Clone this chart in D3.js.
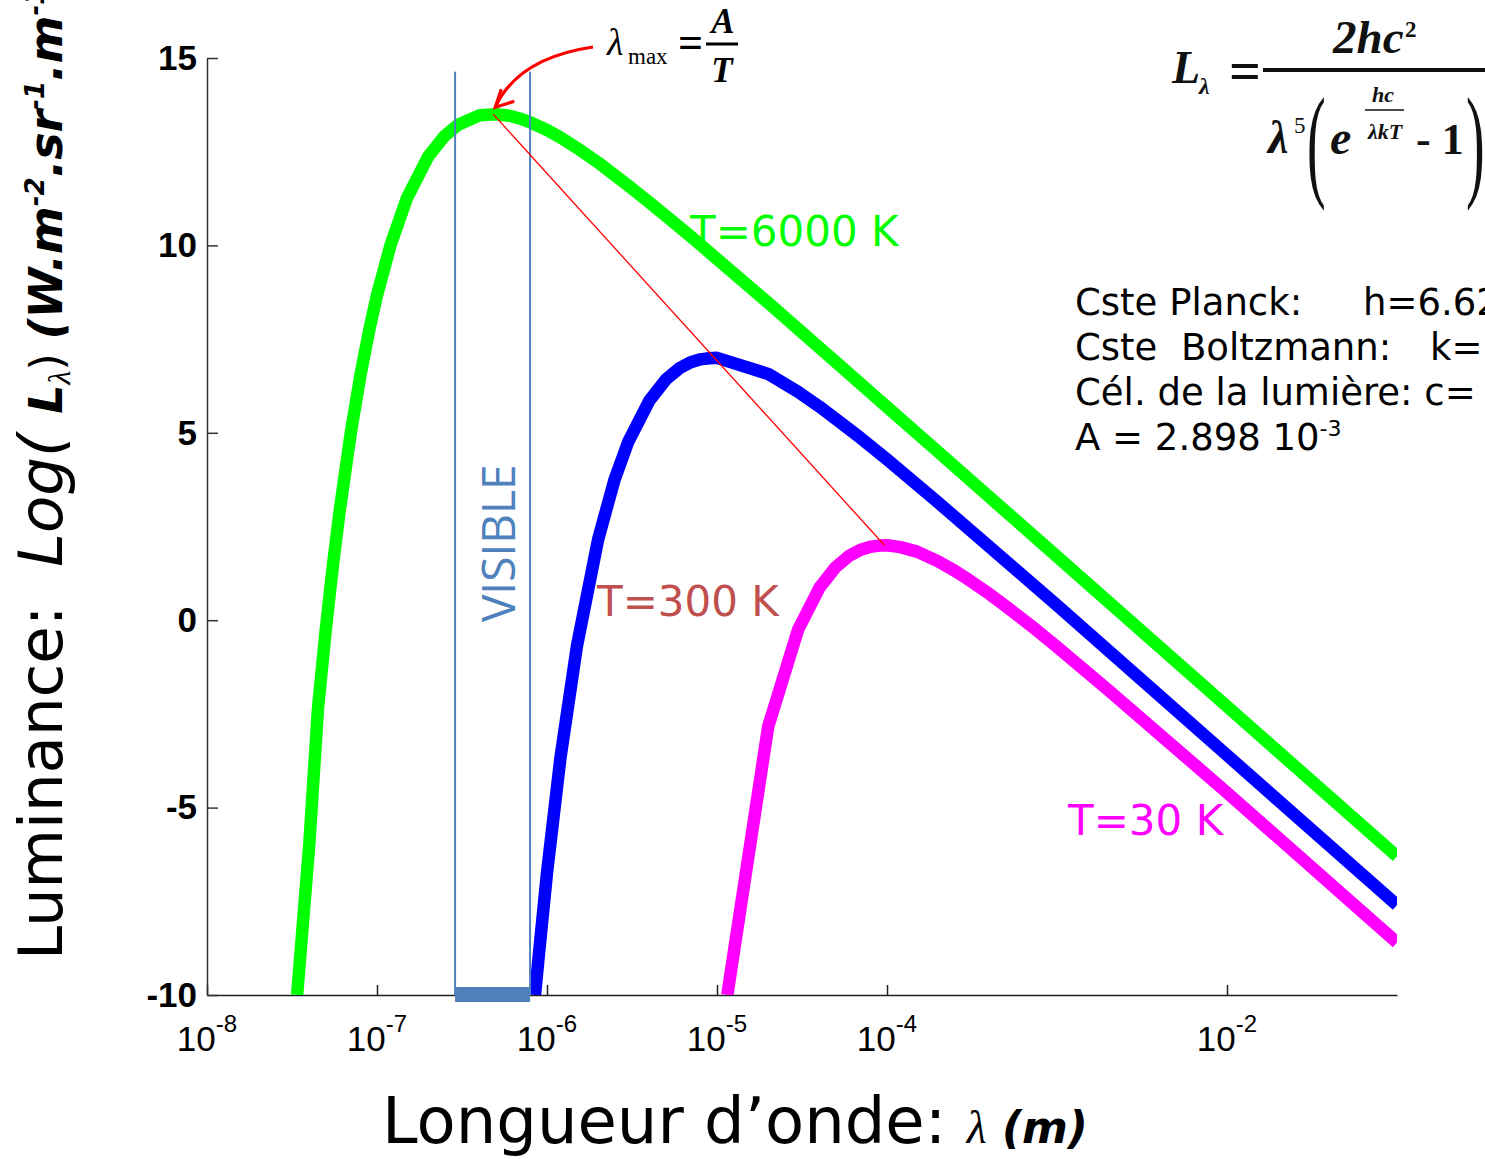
<!DOCTYPE html>
<html>
<head>
<meta charset="utf-8">
<script src="https://cdn.jsdelivr.net/npm/d3@7"></script>
<style>
  body { margin: 0; background: #fff; }
  svg { display: block; }
  text { white-space: pre; }
</style>
</head>
<body>
<div id="chart"></div>
<script>
// wavelength (m) and log10 of luminance
const lambda6000 = [3.39e-8, 4e-8, 4.5e-8, 5e-8, 5.5e-8, 6e-8, 7e-8, 8e-8, 9e-8, 1e-7, 1.2e-7, 1.5e-7, 2e-7, 2.5e-7, 3e-7, 4e-7, 5e-7, 6e-7, 7e-7, 8e-7, 1e-6, 1.2e-6, 1.5e-6, 2e-6, 3e-6, 4e-6, 5e-6, 7e-6, 1e-5, 2e-5, 3e-5, 5e-5, 1e-4, 2e-4, 1e-3, 1e-2, 1e-1];
const logL6000   = [-10, -5.96, -2.33, -0.24, 1.45, 2.84, 4.98, 6.55, 7.74, 8.67, 10.0, 11.26, 12.37, 12.92, 13.22, 13.47, 13.50, 13.46, 13.38, 13.28, 13.08, 12.88, 12.60, 12.21, 11.60, 11.15, 10.79, 10.24, 9.64, 8.47, 7.77, 6.89, 5.69, 4.49, 1.70, -2.30, -6.30];

const lambda300 = [8.5e-7, 9e-7, 1e-6, 1.2e-6, 1.5e-6, 2e-6, 2.5e-6, 3e-6, 4e-6, 5e-6, 6e-6, 7e-6, 8e-6, 9e-6, 1e-5, 2e-5, 3e-5, 4e-5, 5e-5, 7e-5, 1e-4, 2e-4, 1e-3, 1e-2, 1e-1];
const logL300   = [-10, -8.83, -6.74, -3.67, -0.69, 2.16, 3.76, 4.75, 5.86, 6.42, 6.72, 6.88, 6.96, 6.99, 7.00, 6.57, 6.09, 5.70, 5.37, 4.86, 4.29, 3.14, 0.40, -3.60, -7.60];

const lambda30 = [1.15e-5, 2e-5, 3e-5, 4e-5, 5e-5, 6e-5, 7e-5, 8e-5, 9e-5, 1e-4, 1.2e-4, 1.5e-4, 2e-4, 2.5e-4, 3e-4, 4e-4, 5e-4, 7e-4, 1e-3, 2e-3, 1e-2, 1e-1];
const logL30   = [-10, -2.84, -0.25, 0.86, 1.42, 1.72, 1.88, 1.96, 1.99, 2.00, 1.95, 1.83, 1.57, 1.32, 1.09, 0.70, 0.37, -0.14, -0.71, -1.86, -4.60, -8.60];

// peaks joined by the Wien line
const peakLambda = [4.83e-7, 9.66e-5];
const peakLogL = [13.50, 2.00];

// visible band
const visibleBand = [2.88e-7, 7.95e-7];
const visibleTop = 14.63;

const xTicks = [1e-8, 1e-7, 1e-6, 1e-5, 1e-4, 1e-2];
const xTickExp = ["-8", "-7", "-6", "-5", "-4", "-2"];
const yTicks = [-10, -5, 0, 5, 10, 15];

const curves = [
  { lambda: lambda6000, logL: logL6000, color: "#00ff00", label: "T=6000 K", lx: 690, ly: 246, lc: "#00ff00" },
  { lambda: lambda300, logL: logL300, color: "#0000ff", label: "T=300 K", lx: 597, ly: 616, lc: "#c0504d" },
  { lambda: lambda30, logL: logL30, color: "#ff00ff", label: "T=30 K", lx: 1068, ly: 835, lc: "#ff00ff" }
];

const width = 1485, height = 1159;

const svg = d3.select("#chart").append("svg")
  .attr("width", width)
  .attr("height", height);

svg.append("rect").attr("width", width).attr("height", height).attr("fill", "#fff");

const x = d3.scaleLog().domain([1e-8, 1e-1]).range([207, 1397]);
const y = d3.scaleLinear().domain([-10, 15]).range([995, 58]);

svg.append("clipPath").attr("id", "plot")
  .append("rect").attr("x", 207).attr("y", 0).attr("width", 1397 - 207).attr("height", 995);

// axes
const xAxis = svg.append("g")
  .attr("transform", "translate(0," + y(-10) + ")")
  .call(d3.axisBottom(x).tickValues(xTicks).tickSize(-10).tickSizeOuter(0).tickFormat(""));
xAxis.selectAll("path, line").attr("stroke", "#222").attr("stroke-width", 1.5);

const yAxis = svg.append("g")
  .attr("transform", "translate(" + x(1e-8) + ",0)")
  .call(d3.axisLeft(y).tickValues(yTicks).tickSize(-11).tickSizeOuter(0).tickPadding(10).tickFormat(d => String(d)));
yAxis.selectAll("path, line").attr("stroke", "#333").attr("stroke-width", 1.5);
yAxis.selectAll("text")
  .attr("font-family", "Liberation Sans, Arial, sans-serif")
  .attr("font-weight", "bold")
  .attr("font-size", 35)
  .attr("fill", "#000");

const xl = svg.append("g").selectAll("text")
  .data(xTicks)
  .enter().append("text")
  .attr("x", d => x(d))
  .attr("y", 1051)
  .attr("text-anchor", "middle")
  .attr("font-family", "Liberation Sans, Arial, sans-serif")
  .attr("font-size", 35);
xl.append("tspan").text("10");
xl.append("tspan").attr("font-size", 24).attr("dy", -19).text((d, i) => xTickExp[i]);

// curves
const line = d3.line().x(d => x(d[0])).y(d => y(d[1]));
const plot = svg.append("g").attr("clip-path", "url(#plot)");
curves.forEach(c => {
  plot.append("path")
    .datum(c.lambda.map((l, i) => [l, c.logL[i]]))
    .attr("fill", "none")
    .attr("stroke", c.color)
    .attr("stroke-width", 12.5)
    .attr("stroke-linejoin", "round")
    .attr("d", line);
});

// visible band
[0, 1].forEach(i => {
  svg.append("line")
    .attr("x1", x(visibleBand[i])).attr("x2", x(visibleBand[i]))
    .attr("y1", y(visibleTop)).attr("y2", y(-10))
    .attr("stroke", "#4f81bd").attr("stroke-width", 2);
});
svg.append("rect")
  .attr("x", x(visibleBand[0]))
  .attr("y", y(-10) - 8)
  .attr("width", x(visibleBand[1]) - x(visibleBand[0]))
  .attr("height", 15)
  .attr("fill", "#4f81bd");
svg.append("text")
  .attr("transform", "translate(" + ((x(visibleBand[0]) + x(visibleBand[1])) / 2 + 22) + "," + y(-0.05) + ") rotate(-90)")
  .attr("font-family", "Open Sans, sans-serif")
  .attr("font-size", 46)
  .attr("fill", "#4f81bd")
  .text("VISIBLE");

// Wien line
svg.append("line")
  .attr("x1", x(peakLambda[0])).attr("y1", y(peakLogL[0]))
  .attr("x2", x(peakLambda[1])).attr("y2", y(peakLogL[1]))
  .attr("stroke", "#ff0000").attr("stroke-width", 1.3);

// curve labels
curves.forEach(c => {
  svg.append("text")
    .attr("x", c.lx).attr("y", c.ly)
    .attr("font-family", "DejaVu Sans, sans-serif")
    .attr("font-size", 42)
    .attr("fill", c.lc)
    .text(c.label);
});

// lambda max annotation + arrow
const tipX = x(peakLambda[0]) + 2, tipY = y(peakLogL[0]) - 7;
svg.append("path")
  .attr("d", "M593,47 Q518,58 " + tipX + "," + tipY)
  .attr("fill", "none").attr("stroke", "#ff0000").attr("stroke-width", 3.2);
svg.append("path")
  .attr("d", "M" + (tipX + 6) + "," + (tipY - 18) + " L" + tipX + "," + tipY + " L" + (tipX + 19) + "," + (tipY - 6))
  .attr("fill", "none").attr("stroke", "#ff0000").attr("stroke-width", 3.2);

const serif = "Liberation Serif, Times New Roman, serif";
const lm = svg.append("g").attr("font-family", serif).attr("fill", "#000");
lm.append("text").attr("x", 607).attr("y", 55).attr("font-size", 38).attr("font-style", "italic").text("λ");
lm.append("text").attr("x", 628).attr("y", 64).attr("font-size", 23).text("max");
lm.append("text").attr("x", 678).attr("y", 57).attr("font-size", 44).attr("font-weight", "bold").text("=");
lm.append("text").attr("x", 723).attr("y", 33).attr("text-anchor", "middle").attr("font-size", 35).attr("font-weight", "bold").attr("font-style", "italic").text("A");
lm.append("line").attr("x1", 706).attr("x2", 738).attr("y1", 44).attr("y2", 44).attr("stroke", "#000").attr("stroke-width", 3);
lm.append("text").attr("x", 722).attr("y", 82).attr("text-anchor", "middle").attr("font-size", 35).attr("font-weight", "bold").attr("font-style", "italic").text("T");

// Planck formula
const pf = svg.append("g").attr("font-family", serif).attr("font-weight", "bold").attr("font-style", "italic").attr("fill", "#111");
pf.append("text").attr("x", 1172).attr("y", 83).attr("font-size", 46).text("L");
pf.append("text").attr("x", 1199).attr("y", 94).attr("font-size", 24).text("λ");
pf.append("text").attr("x", 1229).attr("y", 90).attr("font-size", 56).attr("font-style", "normal").text("=");
pf.append("line").attr("x1", 1263).attr("x2", 1485).attr("y1", 70).attr("y2", 70).attr("stroke", "#111").attr("stroke-width", 4);
pf.append("text").attr("x", 1333).attr("y", 53).attr("font-size", 47).text("2hc");
pf.append("text").attr("x", 1405).attr("y", 37).attr("font-size", 23).attr("font-style", "normal").text("2");
pf.append("text").attr("x", 1268).attr("y", 153).attr("font-size", 46).text("λ");
pf.append("text").attr("x", 1294).attr("y", 133).attr("font-size", 23).attr("font-style", "normal").attr("font-weight", "normal").text("5");
pf.append("text").attr("transform", "translate(1307,184) scale(1,2.25)").attr("font-size", 56).attr("font-weight", "normal").attr("font-style", "normal").text("(");
pf.append("text").attr("x", 1330).attr("y", 154).attr("font-size", 48).text("e");
pf.append("text").attr("x", 1383).attr("y", 102).attr("text-anchor", "middle").attr("font-size", 22).text("hc");
pf.append("line").attr("x1", 1365).attr("x2", 1404).attr("y1", 110).attr("y2", 110).attr("stroke", "#111").attr("stroke-width", 1.5);
pf.append("text").attr("x", 1385).attr("y", 139).attr("text-anchor", "middle").attr("font-size", 22).text("λkT");
pf.append("text").attr("x", 1416).attr("y", 154).attr("font-size", 44).attr("font-style", "normal").text("- 1");
pf.append("text").attr("transform", "translate(1466,184) scale(1,2.25)").attr("font-size", 56).attr("font-weight", "normal").attr("font-style", "normal").text(")");

// constants (cut by the right edge, as in the figure)
const cs = svg.append("g").attr("font-family", "DejaVu Sans, sans-serif").attr("font-size", 37).attr("fill", "#000");
const c1 = cs.append("text").attr("x", 1075).attr("y", 315);
c1.append("tspan").text("Cste Planck:");
c1.append("tspan").attr("x", 1363).text("h=6.62");
const c2 = cs.append("text").attr("x", 1075).attr("y", 360);
c2.append("tspan").text("Cste  Boltzmann:");
c2.append("tspan").attr("x", 1430).text("k=");
const c3 = cs.append("text").attr("x", 1075).attr("y", 405);
c3.append("tspan").text("Cél. de la lumière: c=");
const c4 = cs.append("text").attr("x", 1075).attr("y", 450);
c4.append("tspan").text("A = 2.898 10");
c4.append("tspan").attr("font-size", 22).attr("dy", -14).text("-3");

// axis titles
const xt = svg.append("text")
  .attr("x", 382).attr("y", 1143)
  .attr("font-family", "DejaVu Sans, sans-serif")
  .attr("font-size", 64)
  .attr("fill", "#000");
xt.append("tspan").text("Longueur d’onde: ");
xt.append("tspan").attr("font-family", serif).attr("font-style", "italic").attr("font-size", 46).text("λ");
xt.append("tspan").attr("font-style", "italic").attr("font-weight", "bold").attr("font-size", 44).text(" (m)");

const yt = svg.append("text")
  .attr("transform", "translate(62,960) rotate(-90)")
  .attr("font-family", "DejaVu Sans, sans-serif")
  .attr("font-size", 61)
  .attr("fill", "#000");
yt.append("tspan").text("Luminance:  ");
yt.append("tspan").attr("font-style", "italic").text("Log( ");
yt.append("tspan").attr("font-style", "italic").attr("font-weight", "bold").attr("font-size", 46).text("L");
yt.append("tspan").attr("font-family", serif).attr("font-style", "italic").attr("font-size", 32).attr("dy", 8).text("λ");
yt.append("tspan").attr("font-size", 44).attr("dy", -8).text(") ");
yt.append("tspan").attr("font-style", "italic").attr("font-weight", "bold").attr("font-size", 46).text("(W.m");
yt.append("tspan").attr("font-style", "italic").attr("font-weight", "bold").attr("font-size", 26).attr("dy", -18).text("-2");
yt.append("tspan").attr("font-style", "italic").attr("font-weight", "bold").attr("font-size", 46).attr("dy", 18).text(".sr");
yt.append("tspan").attr("font-style", "italic").attr("font-weight", "bold").attr("font-size", 26).attr("dy", -18).text("-1");
yt.append("tspan").attr("font-style", "italic").attr("font-weight", "bold").attr("font-size", 46).attr("dy", 18).text(".m");
yt.append("tspan").attr("font-style", "italic").attr("font-weight", "bold").attr("font-size", 26).attr("dy", -18).text("-1");
yt.append("tspan").attr("font-style", "italic").attr("font-weight", "bold").attr("font-size", 46).attr("dy", 18).text(")");
</script>
</body>
</html>
